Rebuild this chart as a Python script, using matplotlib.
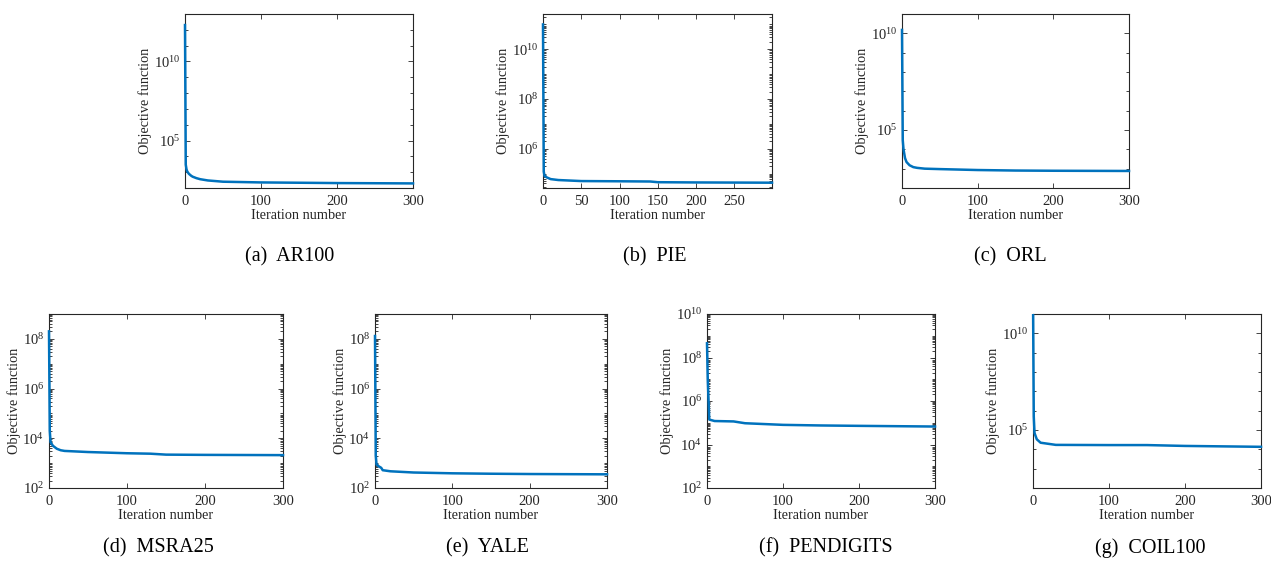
import numpy as np
import matplotlib
matplotlib.use("Agg")
import matplotlib.pyplot as plt
from matplotlib.ticker import LogLocator, NullFormatter, FixedLocator
from matplotlib.patches import Rectangle

plt.rcParams['font.family'] = ['Liberation Serif', 'DejaVu Serif']
plt.rcParams['mathtext.fontset'] = 'custom'
plt.rcParams['mathtext.rm'] = 'Liberation Serif'
plt.rcParams['mathtext.it'] = 'Liberation Serif:italic'
plt.rcParams['mathtext.bf'] = 'Liberation Serif:bold'

# ---- data ----
captions = ["(a)  AR100", "(b)  PIE", "(c)  ORL", "(d)  MSRA25",
            "(e)  YALE", "(f)  PENDIGITS", "(g)  COIL100"]

ar100_it = [0, 1, 2, 3, 5, 8, 10, 15, 20, 30, 50, 100, 150, 200, 250, 300]
ar100_val = [2e12, 3e3, 1.5e3, 1.1e3, 800, 600, 520, 420, 360, 300, 250, 225, 215, 205, 200, 195]

pie_it = [0, 1, 2, 5, 10, 20, 50, 100, 140, 150, 200, 299]
pie_val = [1e11, 1.2e5, 8e4, 7e4, 6e4, 5.5e4, 5e4, 4.9e4, 4.8e4, 4.5e4, 4.4e4, 4.3e4]

orl_it = [0, 1, 2, 4, 6, 10, 15, 20, 30, 50, 100, 150, 200, 300]
orl_val = [1.5e10, 3e4, 1e4, 3.5e3, 2.2e3, 1.5e3, 1.2e3, 1.1e3, 1.0e3, 950, 850, 800, 780, 760]

msra_it = [0, 1, 2, 5, 10, 15, 20, 50, 100, 130, 150, 200, 300]
msra_val = [2e8, 2e4, 7e3, 5e3, 3.8e3, 3.3e3, 3.1e3, 2.8e3, 2.5e3, 2.4e3, 2.2e3, 2.15e3, 2.1e3]

yale_it = [0, 1, 2, 5, 8, 10, 20, 50, 100, 150, 200, 300]
yale_val = [1.3e8, 2e3, 870, 740, 650, 520, 470, 420, 390, 375, 365, 355]

pend_it = [0, 1, 3, 10, 35, 50, 100, 150, 200, 300]
pend_val = [4.5e8, 1e7, 1.4e5, 1.2e5, 1.15e5, 9.5e4, 8e4, 7.5e4, 7.2e4, 6.7e4]

coil_it = [0, 1, 2, 5, 10, 30, 100, 150, 200, 300]
coil_val = [1e12, 5e5, 7e4, 3.3e4, 2.2e4, 1.7e4, 1.66e4, 1.66e4, 1.5e4, 1.35e4]

series = [(ar100_it, ar100_val), (pie_it, pie_val), (orl_it, orl_val),
          (msra_it, msra_val), (yale_it, yale_val), (pend_it, pend_val),
          (coil_it, coil_val)]

ylims = [(1e2, 1e13), (10**4.42, 10**11.42), (1e2, 1e11), (1e2, 1e9),
         (1e2, 1e9), (1e2, 1e10), (1e2, 1e11)]
xlims = [(0, 300), (0, 299), (0, 300), (0, 300), (0, 300), (0, 300), (0, 300)]
xticks = [[0, 100, 200, 300], [0, 50, 100, 150, 200, 250], [0, 100, 200, 300],
          [0, 100, 200, 300], [0, 100, 200, 300], [0, 100, 200, 300], [0, 100, 200, 300]]
yticks = [[1e5, 1e10], [1e6, 1e8, 1e10], [1e5, 1e10], [1e2, 1e4, 1e6, 1e8],
          [1e2, 1e4, 1e6, 1e8], [1e2, 1e4, 1e6, 1e8, 1e10], [1e5, 1e10]]
dense_minor = [False, True, False, True, True, True, False]

# ---- layout (pixels) ----
W, H = 1271, 570
boxes = [(185, 413, 14, 188), (543, 772, 14, 188), (902, 1129, 14, 188),
         (49, 283, 314, 488), (375, 607, 314, 488), (707, 935, 314, 488),
         (1033, 1261, 314, 488)]
cap_pos = [(290, 257), (655, 257), (1010, 257), (158, 548), (487, 548),
           (826, 548), (1150, 548)]

fig = plt.figure(figsize=(W / 100, H / 100), dpi=100)
tc = '#262626'
for i, ((l, r, t, b), (xs, ys)) in enumerate(zip(boxes, series)):
    ax = fig.add_axes([l / W, 1 - b / H, (r - l) / W, (b - t) / H])
    line, = ax.semilogy(xs, ys, color='#0072BD', lw=1.8, zorder=3)
    clip = Rectangle((-0.015, -0.01), 1.03, 1.01, transform=ax.transAxes,
                     facecolor='none', edgecolor='none')
    ax.add_artist(clip)
    line.set_clip_path(clip)
    ax.set_xlim(*xlims[i])
    ax.set_ylim(*ylims[i])
    ax.set_xticks(xticks[i])
    ax.set_yticks(yticks[i])
    if dense_minor[i]:
        ax.yaxis.set_minor_locator(LogLocator(base=10, subs=np.arange(1, 10), numticks=100))
    else:
        lo, hi = np.log10(ylims[i])
        ax.yaxis.set_minor_locator(FixedLocator([10.0 ** k for k in range(int(np.ceil(lo)), int(np.floor(hi)) + 1)]))
    ax.yaxis.set_minor_formatter(NullFormatter())
    ax.tick_params(which='both', direction='in', top=True, right=True,
                   labelsize=10.5, colors=tc, width=0.6)
    ax.tick_params(which='major', length=3.5)
    ax.tick_params(which='minor', length=2)
    ax.tick_params(axis='x', pad=5)
    for s in ax.spines.values():
        s.set_color(tc)
        s.set_linewidth(0.8)
    ax.set_xlabel('Iteration number', fontsize=10.3, color=tc, labelpad=1)
    ax.set_ylabel('Objective function', fontsize=10.3, color=tc, labelpad=1)
    cx, cy = cap_pos[i]
    fig.text(cx / W, 1 - cy / H, captions[i], ha='center', va='center',
             fontsize=14.5, color='black')

fig.savefig('out.png', dpi=100)
